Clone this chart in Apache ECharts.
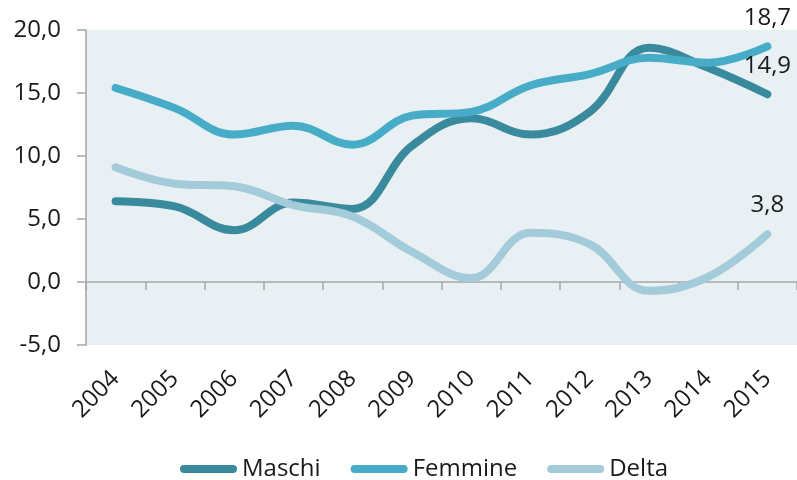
<!DOCTYPE html>
<html>
<head>
<meta charset="utf-8">
<script src="https://cdn.jsdelivr.net/npm/echarts@6/dist/echarts.min.js"></script>
<style>
    html, body { margin: 0; padding: 0; background: #fff; }
    #MainContent { width: 797px; height: 480px; }
</style>
</head>
<body>
<div id="MainContent"></div>
<script>
var years = ['2004', '2005', '2006', '2007', '2008', '2009', '2010', '2011', '2012', '2013', '2014', '2015'];
var maschi = [6.4, 6.0, 4.1, 6.3, 5.8, 10.8, 13.0, 11.7, 13.5, 18.6, 17.0, 14.9];
var femmine = [15.4, 13.8, 11.7, 12.4, 10.9, 13.2, 13.5, 15.6, 16.5, 17.8, 17.4, 18.7];
var delta = [9.1, 7.8, 7.6, 6.1, 5.2, 2.4, 0.3, 3.9, 3.0, -0.7, 0.4, 3.8];

var fontName = '"Open Sans", sans-serif';

function fmt(v) {
    return v.toFixed(1).replace('.', ',');
}

// only the last point of each line gets a label
function lastLabelled(arr) {
    return arr.map(function (v, i) {
        if (i === arr.length - 1) {
            return { value: v, label: { show: true } };
        }
        return v;
    });
}

function makeSeries(name, arr, color) {
    return {
        name: name,
        type: 'line',
        smooth: 0.4,
        symbol: 'circle',
        symbolSize: 1,
        showAllSymbol: true,
        data: lastLabelled(arr),
        lineStyle: { width: 8, color: color, cap: 'round', join: 'round' },
        itemStyle: { color: color },
        label: {
            show: false,
            position: 'top',
            distance: 16,
            fontFamily: fontName,
            fontSize: 24,
            color: '#1a1a1a',
            formatter: function (p) { return fmt(p.value); }
        }
    };
}

var capsule = 'path://M4,0 L53,0 A4,4 0 0 1 53,8 L4,8 A4,4 0 0 1 4,0 Z';

var chart = echarts.init(document.getElementById('MainContent'));

var option = {
    animation: false,
    grid: {
        left: 86, right: -11, top: 30, bottom: 135,
        show: true, backgroundColor: '#e9f0f4', borderWidth: 0
    },
    legend: {
        top: 452,
        left: 175,
        itemWidth: 57,
        itemHeight: 8,
        itemGap: 30,
        textStyle: { fontFamily: fontName, fontSize: 24, color: '#1a1a1a' },
        data: [
            { name: 'Maschi', icon: capsule },
            { name: 'Femmine', icon: capsule },
            { name: 'Delta', icon: capsule }
        ]
    },
    xAxis: [{
        type: 'category',
        data: years,
        axisLine: { onZero: true, lineStyle: { color: '#a6a6a6', width: 1.5 } },
        axisTick: { show: true, length: 8, lineStyle: { color: '#a6a6a6', width: 1.5 } },
        axisLabel: { show: false }
    }, {
        type: 'category',
        data: years,
        position: 'bottom',
        axisLine: { show: false, onZero: false },
        axisTick: { show: false },
        axisLabel: {
            rotate: 45,
            margin: 30,
            fontFamily: fontName,
            fontSize: 24,
            color: '#1a1a1a'
        }
    }],
    yAxis: {
        type: 'value',
        min: -5,
        max: 20,
        interval: 5,
        splitLine: { show: false },
        axisLine: { show: true, lineStyle: { color: '#a6a6a6', width: 1.5 } },
        axisTick: { show: true, length: 9, lineStyle: { color: '#a6a6a6', width: 1.5 } },
        axisLabel: {
            margin: 25,
            fontFamily: fontName,
            fontSize: 24,
            color: '#1a1a1a',
            formatter: function (v) { return fmt(v); }
        }
    },
    series: [
        makeSeries('Maschi', maschi, '#3a8a9e'),
        makeSeries('Femmine', femmine, '#46acc8'),
        makeSeries('Delta', delta, '#a3cbd9')
    ]
};

chart.setOption(option);
window.onresize = chart.resize;
</script>
</body>
</html>
